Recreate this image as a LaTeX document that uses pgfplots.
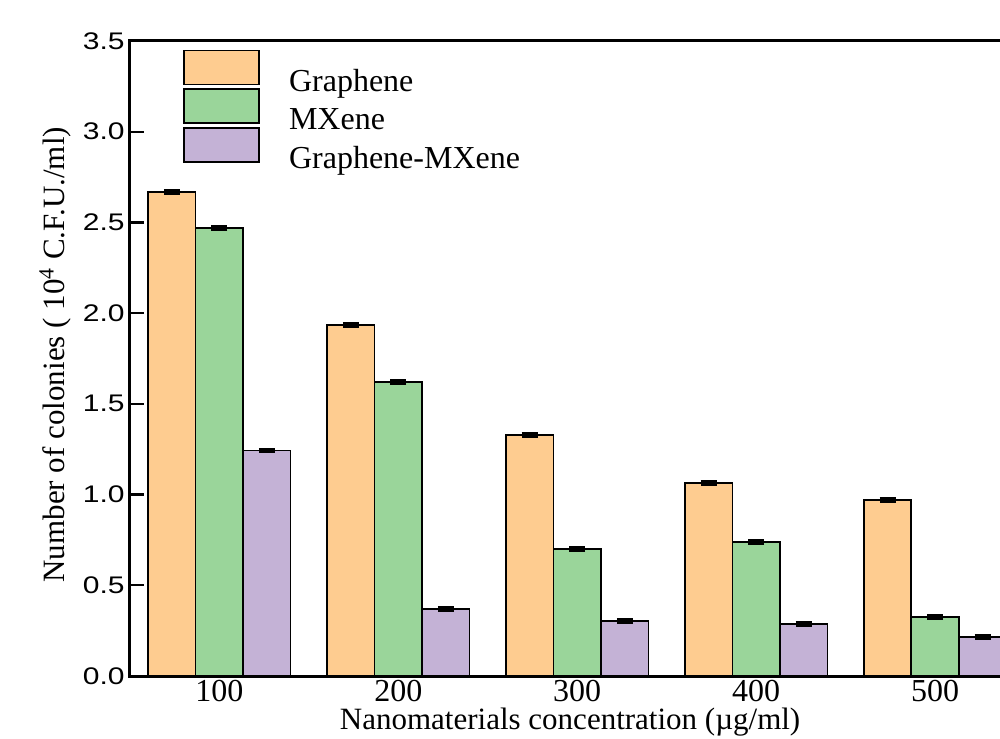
\documentclass[border=0pt]{standalone}
\usepackage{pgfplots}
\pgfplotsset{compat=1.18}
\usepackage{fontspec}
\setmainfont{Liberation Serif}
\newfontfamily\arialf[FakeStretch=1.25]{Liberation Sans}
\definecolor{cOr}{RGB}{254,204,144}
\definecolor{cGr}{RGB}{154,213,154}
\definecolor{cPu}{RGB}{196,178,214}
\begin{document}
\begin{tikzpicture}
\begin{scope}
\clip (-65pt,-31pt) rectangle (435pt,338pt);
\begin{axis}[
  at={(0,0)}, anchor=south west,
  scale only axis, width=447.25pt, height=317.5pt,
  xmin=-0.5, xmax=4.5, ymin=0, ymax=3.5,
  ybar=0pt, bar width=23.75pt,
  xtick={0,1,2,3,4}, xticklabels={100,200,300,400,500},
  xtick style={draw=none},
  ytick={0,0.5,1,1.5,2,2.5,3,3.5},
  ytick pos=left,
  major tick length=7pt,
  ytick style={line width=1.2pt, black},
  axis line style={line width=1.5pt},
  /pgf/number format/assume math mode=true,
  yticklabel style={font=\arialf\fontsize{12}{12}\selectfont, inner xsep=2.5pt,
    /pgf/number format/.cd, fixed, fixed zerofill, precision=1},
  xticklabel style={font=\fontsize{16}{16}\selectfont, anchor=base, yshift=-5.5pt, inner ysep=0pt, text depth=0pt},
  xlabel={Nanomaterials concentration (\textmu g/ml)},
  ylabel={Number of colonies ( 10\textsuperscript{4} C.F.U./ml)},
  every axis x label/.style={at={(axis description cs:0.492,-0.0835)}, anchor=base, inner ysep=0pt, text height=10pt, font=\fontsize{15.5}{15.5}\selectfont},
  every axis y label/.style={at={(axis description cs:-0.0838,0.506)}, rotate=90, anchor=center, font=\fontsize{15.5}{15.5}\selectfont},
  legend style={at={(axis description cs:0.0593,0.967)}, anchor=north west,
    draw=none, fill=none, font=\fontsize{16}{16}\selectfont, inner sep=0pt,
    row sep=0pt, nodes={inner sep=0pt}},
  legend cell align=left,
]
\addplot[fill=cOr, draw=black, line width=0.8pt,
  legend image code/.code={\path (0pt,-9.25pt) (52pt,9.25pt); \begin{pgfinterruptboundingbox}\draw[fill=cOr, draw=black, line width=0.8pt] (0pt,-1.5pt) rectangle (37.5pt,15.5pt);\end{pgfinterruptboundingbox}},
  error bars/.cd, y dir=both, y explicit,
  error bar style={line width=1pt, black},
  error mark options={rotate=90, line width=1pt, black, mark size=4pt}]
  coordinates {(0,2.668) +- (0,0.01) (1,1.935) +- (0,0.01) (2,1.329) +- (0,0.01) (3,1.064) +- (0,0.01) (4,0.970) +- (0,0.01)};
\addplot[fill=cGr, draw=black, line width=0.8pt,
  legend image code/.code={\path (0pt,-9.25pt) (52pt,9.25pt); \begin{pgfinterruptboundingbox}\draw[fill=cGr, draw=black, line width=0.8pt] (0pt,-1.5pt) rectangle (37.5pt,15.5pt);\end{pgfinterruptboundingbox}},
  error bars/.cd, y dir=both, y explicit,
  error bar style={line width=1pt, black},
  error mark options={rotate=90, line width=1pt, black, mark size=4pt}]
  coordinates {(0,2.470) +- (0,0.01) (1,1.620) +- (0,0.01) (2,0.700) +- (0,0.01) (3,0.739) +- (0,0.01) (4,0.325) +- (0,0.01)};
\addplot[fill=cPu, draw=black, line width=0.8pt,
  legend image code/.code={\path (0pt,-9.25pt) (52pt,9.25pt); \begin{pgfinterruptboundingbox}\draw[fill=cPu, draw=black, line width=0.8pt] (0pt,-1.5pt) rectangle (37.5pt,15.5pt);\end{pgfinterruptboundingbox}},
  error bars/.cd, y dir=both, y explicit,
  error bar style={line width=1pt, black},
  error mark options={rotate=90, line width=1pt, black, mark size=4pt}]
  coordinates {(0,1.242) +- (0,0.01) (1,0.369) +- (0,0.01) (2,0.303) +- (0,0.01) (3,0.287) +- (0,0.01) (4,0.215) +- (0,0.01)};
\legend{Graphene, MXene, Graphene-MXene}
\end{axis}
\end{scope}
\pgfresetboundingbox
\path[use as bounding box] (-65pt,-31pt) rectangle (435pt,338pt);
\end{tikzpicture}
\end{document}
